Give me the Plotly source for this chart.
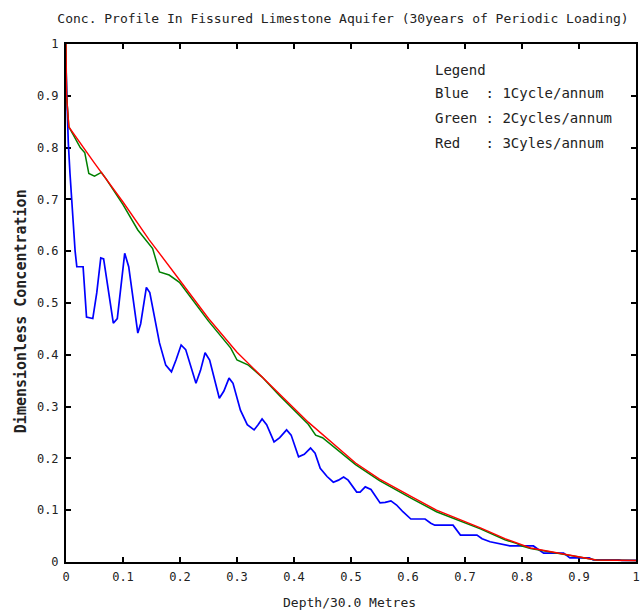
import plotly.graph_objects as go

# ---- data ----
blue_x = [0, 0.002, 0.004, 0.007, 0.009, 0.012, 0.016, 0.019, 0.03, 0.036, 0.047, 0.054, 0.061, 0.066,
          0.073, 0.083, 0.09, 0.103, 0.11, 0.126, 0.131, 0.141, 0.147, 0.164, 0.175, 0.185, 0.193, 0.202,
          0.21, 0.228, 0.236, 0.244, 0.252, 0.269, 0.277, 0.286, 0.293, 0.306, 0.318, 0.33, 0.337, 0.344,
          0.352, 0.365, 0.375, 0.387, 0.395, 0.408, 0.418, 0.429, 0.437, 0.446, 0.458, 0.469, 0.478, 0.487,
          0.495, 0.51, 0.516, 0.525, 0.535, 0.551, 0.56, 0.57, 0.58, 0.591, 0.605, 0.63, 0.64, 0.647, 0.679,
          0.686, 0.692, 0.721, 0.73, 0.744, 0.76, 0.779, 0.82, 0.83, 0.838, 0.873, 0.88, 0.884, 0.918, 0.925,
          0.97, 0.975, 1.0]
blue_y = [0.955, 0.87, 0.81, 0.75, 0.715, 0.66, 0.60, 0.57, 0.57, 0.473, 0.47, 0.52, 0.587, 0.585,
          0.53, 0.461, 0.47, 0.596, 0.57, 0.442, 0.46, 0.53, 0.52, 0.423, 0.38, 0.367, 0.39, 0.419,
          0.41, 0.345, 0.37, 0.404, 0.39, 0.316, 0.33, 0.355, 0.345, 0.293, 0.265, 0.255, 0.265, 0.276,
          0.265, 0.232, 0.24, 0.255, 0.245, 0.203, 0.208, 0.22, 0.21, 0.181, 0.165, 0.154, 0.158, 0.164,
          0.158, 0.135, 0.135, 0.145, 0.14, 0.114, 0.115, 0.118, 0.11, 0.097, 0.083, 0.083, 0.075, 0.071, 0.071,
          0.06, 0.052, 0.052, 0.045, 0.039, 0.035, 0.031, 0.031, 0.024, 0.017, 0.017, 0.012, 0.008, 0.008, 0.004,
          0.004, 0.003, 0.003]

green_x = [0, 0.001, 0.005, 0.025, 0.033, 0.04, 0.05, 0.062, 0.07, 0.1, 0.126, 0.146, 0.152, 0.164, 0.181,
           0.199, 0.25, 0.289, 0.3, 0.32, 0.344, 0.374, 0.425, 0.438, 0.45, 0.508, 0.55, 0.606, 0.65, 0.727,
           0.77, 0.79, 0.8, 0.815, 0.85, 0.897, 0.93, 1.0]
green_y = [1.0, 0.9, 0.84, 0.80, 0.79, 0.75, 0.745, 0.752, 0.74, 0.69, 0.641, 0.615, 0.605, 0.56, 0.554,
           0.54, 0.465, 0.413, 0.39, 0.38, 0.357, 0.322, 0.266, 0.245, 0.24, 0.188, 0.157, 0.123, 0.097, 0.064,
           0.043, 0.036, 0.031, 0.026, 0.019, 0.011, 0.004, 0.003]

red_x = [0, 0.001, 0.005, 0.05, 0.1, 0.146, 0.19, 0.25, 0.3, 0.374, 0.425, 0.508, 0.55, 0.606, 0.65,
         0.727, 0.77, 0.815, 0.85, 0.897, 0.93, 1.0]
red_y = [1.0, 0.9, 0.84, 0.77, 0.695, 0.622, 0.558, 0.47, 0.405, 0.326, 0.27, 0.191, 0.16, 0.126, 0.1,
         0.066, 0.045, 0.027, 0.02, 0.012, 0.004, 0.003]

tick_vals = [0, 0.1, 0.2, 0.3, 0.4, 0.5, 0.6, 0.7, 0.8, 0.9, 1]
tick_text = ["0", "0.1", "0.2", "0.3", "0.4", "0.5", "0.6", "0.7", "0.8", "0.9", "1"]

legend_lines = ["Legend", "Blue  : 1Cycle/annum", "Green : 2Cycles/annum", "Red   : 3Cyles/annum"]

title_text = "Conc. Profile In Fissured Limestone Aquifer (30years of Periodic Loading)"
x_title = "Depth/30.0 Metres"
y_title = "Dimensionless Concentration"

FONT = "DejaVu Sans Mono"
TXT = "#222222"

fig = go.Figure()
fig.add_trace(go.Scatter(x=blue_x, y=blue_y, mode="lines", line=dict(color="#0000ff", width=1.7), showlegend=False))
fig.add_trace(go.Scatter(x=green_x, y=green_y, mode="lines", line=dict(color="#008000", width=1.5), showlegend=False))
fig.add_trace(go.Scatter(x=red_x, y=red_y, mode="lines", line=dict(color="#ff0000", width=1.4), showlegend=False))

axis_common = dict(range=[0, 1], tickvals=tick_vals, ticktext=tick_text, showgrid=False, zeroline=False,
                   showline=True, linecolor="black", linewidth=2, ticks="inside", ticklen=5, tickwidth=2,
                   tickcolor="black", mirror="ticks", layer="below traces", ticklabeloverflow="allow",
                   tickfont=dict(family=FONT, size=12, color=TXT), ticklabelstandoff=3, fixedrange=True)
fig.update_xaxes(**axis_common)
fig.update_yaxes(**axis_common)

annotations = [
    dict(text=x_title, xref="paper", yref="paper", x=0.4965, y=-0.079, showarrow=False,
         xanchor="center", yanchor="middle", font=dict(family=FONT, size=13, color=TXT)),
    dict(text="<b>" + y_title + "</b>", xref="paper", yref="paper", x=-0.08, y=0.485, showarrow=False,
         textangle=-90, xanchor="center", yanchor="middle", font=dict(family=FONT, size=15, color=TXT)),
]
leg_y = [0.95, 0.905, 0.857, 0.809]
for txt, yy in zip(legend_lines, leg_y):
    annotations.append(dict(text=txt.replace(" ", "&nbsp;"), xref="paper", yref="paper", x=0.6446, y=yy,
                            showarrow=False, xanchor="left", yanchor="middle",
                            font=dict(family=FONT, size=14, color=TXT)))

fig.update_layout(
    width=641, height=611,
    margin=dict(l=66, r=1, t=44, b=49),
    paper_bgcolor="white", plot_bgcolor="white",
    title=dict(text=title_text, x=0.486, xref="paper", y=(611 - 18) / 611, yref="container",
               xanchor="center", yanchor="middle", font=dict(family=FONT, size=13, color=TXT)),
    annotations=annotations,
)

fig.write_html("out.html", config={"displayModeBar": False})
